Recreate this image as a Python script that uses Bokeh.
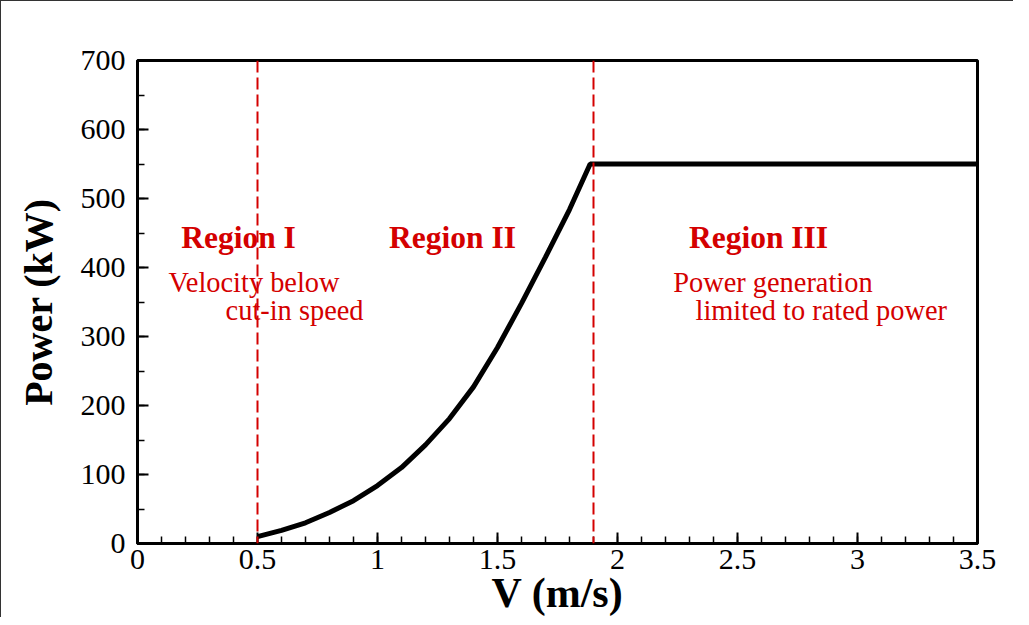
from bokeh.plotting import figure
from bokeh.models import Span, Label, SingleIntervalTicker, Range1d, NumeralTickFormatter
from bokeh.embed import file_html
from bokeh.resources import INLINE

# Data
velocity = [0.5, 0.6, 0.7, 0.8, 0.9, 1.0, 1.1, 1.2, 1.3, 1.4, 1.5, 1.6, 1.7, 1.8, 1.886, 3.5]
power = [10, 19, 30, 45, 62, 84, 110, 143, 181, 227, 284, 348, 415, 484, 550, 550]
region_bounds = [0.5, 1.9]  # cut-in speed, rated speed

region_titles = ["Region I", "Region II", "Region III"]
region_notes = [["Velocity below", "cut-in speed"], ["Power generation", "limited to rated power"]]

RED = "#d40000"
SERIF = "Liberation Serif"

p = figure(width=1013, height=617, output_backend="svg", toolbar_location=None,
           x_range=Range1d(0, 3.5), y_range=Range1d(0, 700),
           min_border_left=136, min_border_right=37, min_border_top=59, min_border_bottom=75)
p.styles = {"border-top": "1px solid #333", "border-left": "1px solid #333"}

p.grid.visible = False
p.outline_line_color = "black"
p.outline_line_width = 3
p.background_fill_color = "white"
p.border_fill_color = "white"

p.xaxis.ticker = SingleIntervalTicker(interval=0.5, num_minor_ticks=5)
p.yaxis.ticker = SingleIntervalTicker(interval=100, num_minor_ticks=2)
p.xaxis.formatter = NumeralTickFormatter(format="0.[0]")

for ax in (p.xaxis[0], p.yaxis[0]):
    ax.axis_line_width = 3
    ax.axis_line_color = "black"
    ax.major_tick_in = 11
    ax.major_tick_out = 0
    ax.minor_tick_in = 7
    ax.minor_tick_out = 0
    ax.major_tick_line_width = 2
    ax.minor_tick_line_width = 1.5
    ax.major_tick_line_color = "black"
    ax.minor_tick_line_color = "black"
    ax.major_label_text_font = SERIF
    ax.major_label_text_font_size = "30px"
    ax.major_label_text_color = "black"
    ax.axis_label_text_font = SERIF
    ax.axis_label_text_font_style = "bold"
    ax.axis_label_text_font_size = "40px"
    ax.axis_label_text_color = "black"

p.xaxis.axis_label = "V (m/s)"
p.yaxis.axis_label = "Power (kW)"
p.xaxis.axis_label_text_font_size = "42px"
p.xaxis.major_label_standoff = 6
p.xaxis.axis_label_standoff = -2
p.yaxis.major_label_standoff = 12
p.yaxis.axis_label_standoff = 17

for b in region_bounds:
    p.add_layout(Span(location=b, dimension="height", line_color=RED,
                      line_width=2, line_dash="12 5"))

p.line(velocity, power, line_width=5, line_color="black")

title_pos = [(0.421, 443.5), (1.3125, 443.5), (2.5875, 443.5)]
for (x, y), t in zip(title_pos, region_titles):
    p.add_layout(Label(x=x, y=y, text=t, text_align="center", text_baseline="alphabetic",
                       text_font=SERIF, text_font_style="bold", text_font_size="31.5px",
                       text_color=RED))

note_pos = [[(0.129, 378.5), (0.367, 337.5)], [(2.232, 378.5), (2.325, 337.5)]]
for poss, lines in zip(note_pos, region_notes):
    for (x, y), t in zip(poss, lines):
        p.add_layout(Label(x=x, y=y, text=t, text_align="left", text_baseline="alphabetic",
                           text_font=SERIF, text_font_size="28.4px", text_color=RED))

open("out.html", "w").write(file_html(p, INLINE))
